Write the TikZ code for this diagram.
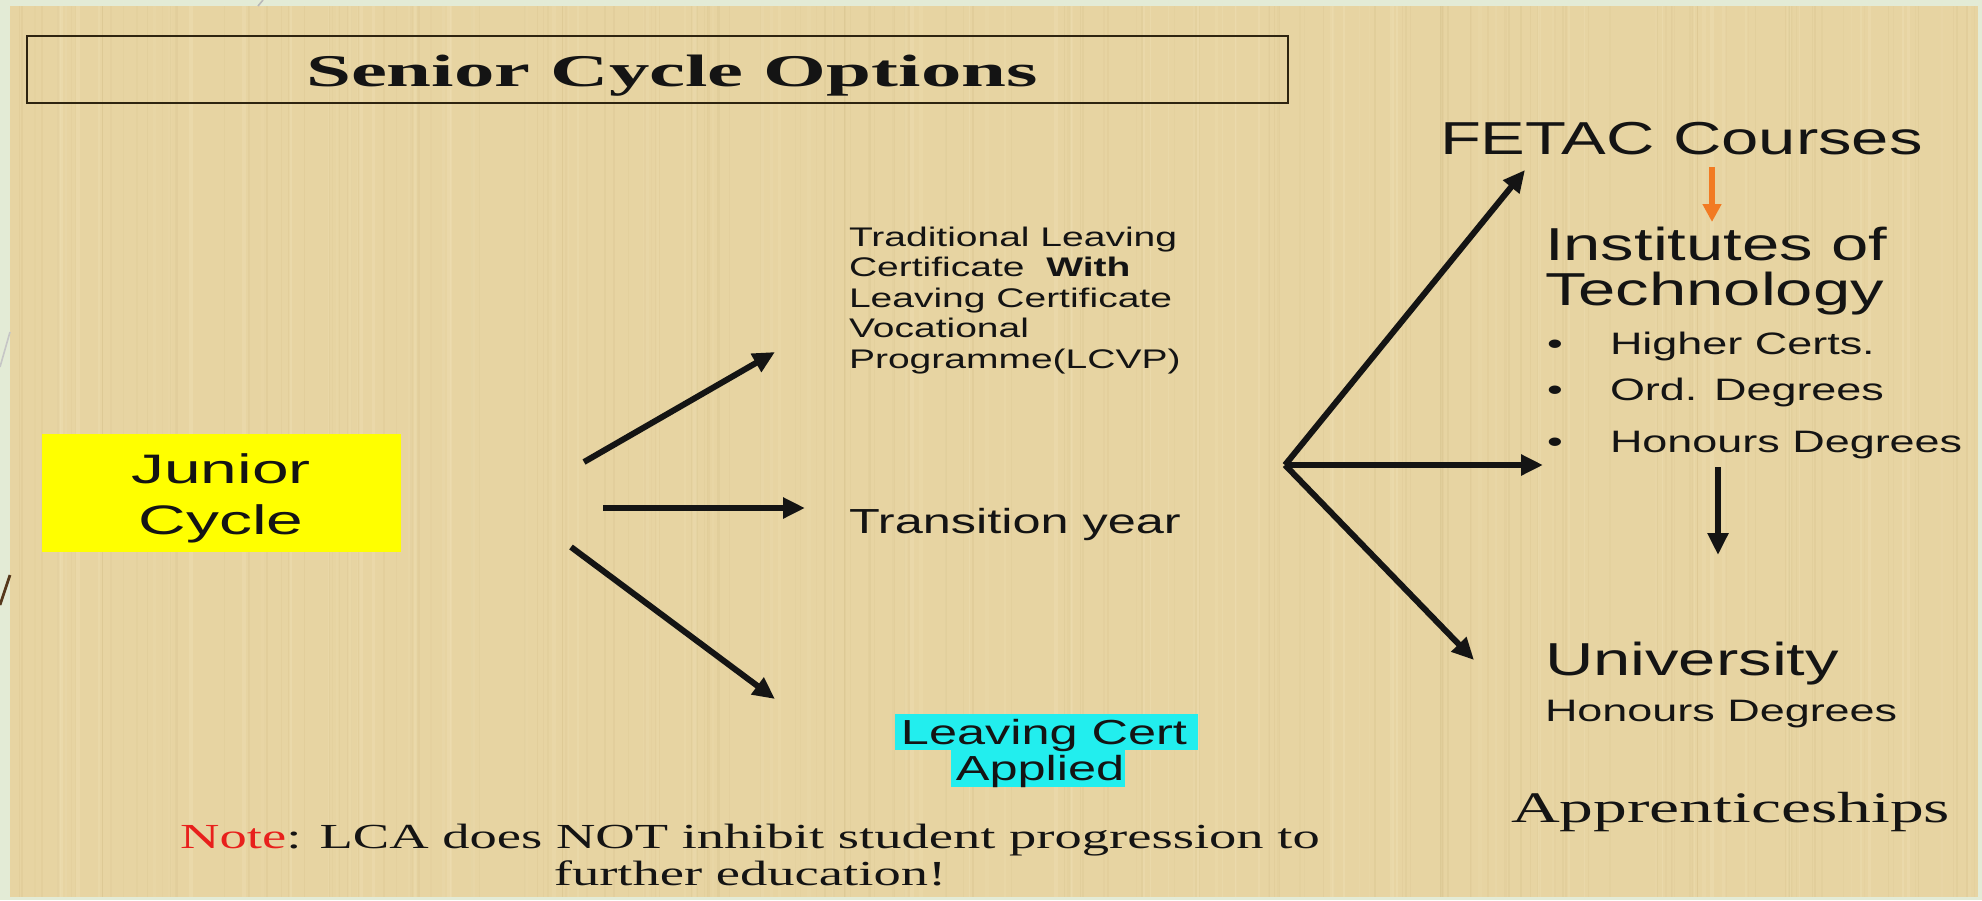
\documentclass[tikz,border=0pt]{standalone}
\usepackage{fontspec}
\setmainfont{Liberation Sans}
\newfontfamily\seriffont{Liberation Serif}
\usetikzlibrary{arrows.meta}
\definecolor{margingreen}{HTML}{E3EBD6}
\definecolor{papyrus}{HTML}{E7D4A2}
\definecolor{streakdark}{HTML}{C9B27A}
\definecolor{streaklight}{HTML}{F3E6BE}
\definecolor{boxline}{HTML}{2E2410}
\definecolor{hlyellow}{HTML}{FFFF00}
\definecolor{hlcyan}{HTML}{22EEEE}
\definecolor{arroworange}{HTML}{F27A22}
\definecolor{notered}{HTML}{E8201C}
\definecolor{ink}{HTML}{141414}
\begin{document}
\begin{tikzpicture}[x=0.5pt,y=-0.5pt,
  txt/.style={inner sep=0pt, outer sep=0pt, text=ink},
  lbl/.style={txt, anchor=base west},
  ctr/.style={txt, anchor=base},
  arr/.style={line width=3pt, draw=ink, -{Triangle[length=11pt,width=10pt]}},
  oarr/.style={line width=2.6pt, draw=arroworange, -{Triangle[length=9pt,width=9pt]}},
  bigsans/.style={font=\fontsize{23.1}{26}\selectfont, xscale=1.45},
  juniorfont/.style={font=\fontsize{20.6}{24}\selectfont, xscale=1.6},
  smallsans/.style={font=\fontsize{13.45}{15}\selectfont, xscale=1.45},
  midsans/.style={font=\fontsize{17.4}{20}\selectfont, xscale=1.45},
  itemsans/.style={font=\fontsize{15.5}{18}\selectfont, xscale=1.45},
  titlefont/.style={font=\seriffont\bfseries\fontsize{22.7}{27}\selectfont, xscale=1.78},
  seriftext/.style={font=\seriffont\fontsize{17.6}{21}\selectfont, xscale=1.55},
  apprfont/.style={font=\seriffont\fontsize{21.8}{26}\selectfont, xscale=1.55},
]
\useasboundingbox (0,0) rectangle (1982,900);
% background
\fill[margingreen] (0,0) rectangle (1982,900);
\fill[papyrus] (10,6) rectangle (1978,897);
\pgfmathsetseed{4242}
\begin{scope}
\clip (10,6) rectangle (1978,897);
\foreach \k in {1,...,160}{
  \pgfmathsetmacro{\sx}{10+1968*rnd}
  \pgfmathsetmacro{\sw}{0.6+1.6*rnd}
  \pgfmathsetmacro{\so}{0.06+0.12*rnd}
  \draw[streakdark, line width=\sw*0.5pt, opacity=\so] (\sx,6) -- (\sx,897);
}
\foreach \k in {1,...,90}{
  \pgfmathsetmacro{\sx}{10+1968*rnd}
  \pgfmathsetmacro{\sw}{1+3*rnd}
  \pgfmathsetmacro{\so}{0.1+0.2*rnd}
  \draw[streaklight, line width=\sw*0.5pt, opacity=\so] (\sx,6) -- (\sx,897);
}
\end{scope}
\draw[gray!55, line width=0.8pt] (263,0) -- (258,6);
\draw[gray!45, line width=0.8pt] (10,332) -- (0,367);
\draw[black!55!brown, line width=1.4pt] (10,575) -- (0,605);

% title
\draw[boxline, line width=1.3pt] (27,36) rectangle (1288,103);
\node[ctr, titlefont] (title) at (672,86) {Senior Cycle Options};

% junior cycle
\fill[hlyellow] (42,434) rectangle (401,552);
\node[ctr, juniorfont] (junior) at (221,483) {Junior};
\node[ctr, juniorfont] (cycle) at (221,534) {Cycle};

% middle column
\node[lbl, smallsans] (trad1) at (849,246) {Traditional Leaving};
\node[lbl, smallsans] (trad2) at (849,276.5) {Certificate\ \ \textbf{With}};
\node[lbl, smallsans] (trad3) at (849,307) {Leaving Certificate};
\node[lbl, smallsans] (trad4) at (849,337.5) {Vocational};
\node[lbl, smallsans] (trad5) at (849,368) {Programme(LCVP)};

\node[lbl, midsans] (transition) at (849,533) {Transition year};

\fill[hlcyan] (895,714) rectangle (1198,750);
\fill[hlcyan] (951,750) rectangle (1125,787);
\node[ctr, midsans] (lca1) at (1044,744) {Leaving Cert};
\node[ctr, midsans] (lca2) at (1040,780) {Applied};

% right column
\node[lbl, bigsans] (fetac) at (1440,154) {FETAC Courses};
\node[lbl, bigsans] (inst1) at (1545,260) {Institutes of};
\node[lbl, bigsans] (inst2) at (1545,305) {Technology};
\node[lbl, itemsans] (b1) at (1547,354) {\textbullet};
\node[lbl, itemsans] (i1) at (1610,354) {Higher Certs.};
\node[lbl, itemsans] (b2) at (1547,400) {\textbullet};
\node[lbl, itemsans] (i2) at (1610,400) {Ord. Degrees};
\node[lbl, itemsans] (b3) at (1547,452) {\textbullet};
\node[lbl, itemsans] (i3) at (1610,452) {Honours Degrees};
\node[lbl, bigsans] (univ) at (1545,675) {University};
\node[lbl, itemsans] (univh) at (1545,721) {Honours Degrees};
\node[lbl, apprfont] (appr) at (1511,822) {Apprenticeships};

% note
\node[ctr, seriftext] (note1) at (750,848) {\textcolor{notered}{Note}: LCA does NOT inhibit student progression to};
\node[ctr, seriftext] (note2) at (750,885) {further education!};

% arrow end points
\coordinate (ja) at (584,462);  \coordinate (jb) at (775,352);
\coordinate (jc) at (603,508);  \coordinate (jd) at (805,508);
\coordinate (je) at (571,547);  \coordinate (jf) at (775,699);
\coordinate (fork) at (1285,465);
\coordinate (fu) at (1525,170);
\coordinate (fr) at (1543,465);
\coordinate (fd) at (1474,660);
\coordinate (oa) at (1712,167); \coordinate (ob) at (1712,222);
\coordinate (ka) at (1718,467); \coordinate (kb) at (1718,555);

\draw[arr] (ja) -- (jb);
\draw[arr] (jc) -- (jd);
\draw[arr] (je) -- (jf);
\draw[arr] (fork) -- (fu);
\draw[arr] (fork) -- (fr);
\draw[arr] (fork) -- (fd);
\draw[oarr] (oa) -- (ob);
\draw[arr] (ka) -- (kb);
\end{tikzpicture}
\end{document}
